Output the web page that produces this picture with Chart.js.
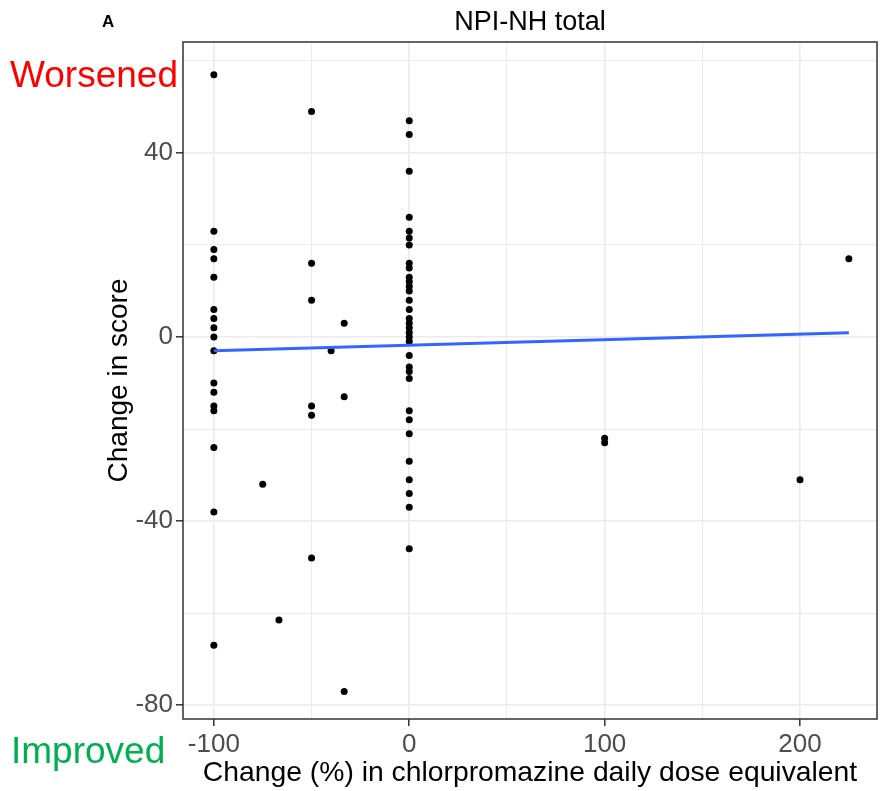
<!DOCTYPE html>
<html>
<head>
<meta charset="utf-8">
<script src="https://cdn.jsdelivr.net/npm/chart.js@4.4.0/dist/chart.umd.min.js"></script>
<style>
  html, body { margin: 0; padding: 0; background: #fff; }
</style>
</head>
<body>
<canvas id="myChart" width="881" height="791"></canvas>
<script>
const doseLevels = [-100, -75, -66.7, -50, -40, -33.3, 0, 100, 200, 225];
const scoresByDose = [
  [57, 23, 19, 17, 13, 6, 4, 2, 0, -3, -10, -12, -15, -16, -24, -38, -67],
  [-32],
  [-61.5],
  [49, 16, 8, -15, -17, -48],
  [-3],
  [3, -13, -77],
  [47, 44, 36, 26, 23, 21.5, 20, 16, 15, 13, 12, 11, 10, 8, 6, 4, 3, 2, 1, 0, -1, -4, -6.5, -7.5, -9, -16, -18, -21, -27, -31, -34, -37, -46],
  [-22, -23],
  [-31],
  [17]
];

// fitted line (linear smooth)
const fitX = [-100, 225];
const fitY = [-3.0, 0.9];

const xMajor = [-100, 0, 100, 200];
const xMinor = [-50, 50, 150];
const yMajor = [-80, -40, 0, 40];
const yMinor = [-60, -20, 20, 60];

const family = '"Liberation Sans", Arial, sans-serif';

const points = doseLevels.flatMap((d, i) => scoresByDose[i].map(s => ({ x: d, y: s })));
const fitLine = fitX.map((x, i) => ({ x: x, y: fitY[i] }));

const xTicks = xMajor.concat(xMinor).sort((a, b) => a - b);
const yTicks = yMajor.concat(yMinor).sort((a, b) => a - b);

const extras = {
  id: 'extras',
  afterDatasetsDraw(chart) {
    const { ctx, chartArea: a } = chart;
    ctx.save();
    ctx.strokeStyle = '#333333';
    ctx.lineWidth = 1.5;
    ctx.strokeRect(a.left, a.top, a.right - a.left, a.bottom - a.top);
    ctx.restore();
  },
  afterDraw(chart) {
    const ctx = chart.ctx;
    ctx.save();
    ctx.textBaseline = 'alphabetic';
    ctx.fillStyle = '#000';
    ctx.font = 'bold 17px ' + family;
    ctx.fillText('A', 102, 27);
    ctx.font = '37px ' + family;
    ctx.fillStyle = '#FF0000';
    ctx.fillText('Worsened', 10, 87);
    ctx.fillStyle = '#00B050';
    ctx.fillText('Improved', 11, 763);
    ctx.restore();
  }
};

const config = {
  type: 'scatter',
  data: {
    datasets: [
      {
        type: 'line',
        data: fitLine,
        borderColor: '#3366FF',
        borderWidth: 3,
        pointRadius: 0,
        fill: false,
        order: 0
      },
      {
        data: points,
        backgroundColor: '#000000',
        borderWidth: 0,
        pointRadius: 3.5,
        order: 1
      }
    ]
  },
  options: {
    responsive: false,
    animation: false,
    layout: { padding: { left: 0, right: 3, top: 0, bottom: 0 } },
    plugins: {
      legend: { display: false },
      tooltip: { enabled: false },
      title: {
        display: true,
        text: 'NPI-NH total',
        fullSize: false,
        color: '#000',
        font: { size: 27, family: family, weight: 'normal' },
        padding: { top: 6, bottom: 3.6 }
      }
    },
    scales: {
      x: {
        type: 'linear',
        min: -115.8,
        max: 239.4,
        afterBuildTicks: (scale) => { scale.ticks = xTicks.map(v => ({ value: v })); },
        afterFit: (scale) => { scale.height = 72; },
        ticks: {
          callback: (v) => xMajor.includes(v) ? String(v) : '',
          color: '#4D4D4D',
          font: { size: 26, family: family },
          padding: 3,
          maxRotation: 0,
          autoSkip: false
        },
        grid: {
          color: '#EBEBEB',
          lineWidth: (c) => xMajor.includes(c.tick && c.tick.value) ? 1.6 : 1,
          tickLength: 7,
          tickWidth: 1.5,
          tickColor: (c) => xMajor.includes(c.tick && c.tick.value) ? '#333333' : 'rgba(0,0,0,0)'
        },
        border: { display: false },
        title: {
          display: true,
          text: 'Change (%) in chlorpromazine daily dose equivalent',
          color: '#000',
          font: { size: 28.3, family: family },
          padding: { top: 0, bottom: 1 }
        }
      },
      y: {
        type: 'linear',
        min: -83.0,
        max: 64.1,
        afterBuildTicks: (scale) => { scale.ticks = yTicks.map(v => ({ value: v })); },
        afterFit: (scale) => { scale.width = 183; },
        ticks: {
          callback: (v) => yMajor.includes(v) ? String(v) : '',
          color: '#4D4D4D',
          font: { size: 26, family: family },
          padding: 3,
          autoSkip: false
        },
        grid: {
          color: '#EBEBEB',
          lineWidth: (c) => yMajor.includes(c.tick && c.tick.value) ? 1.6 : 1,
          tickLength: 7,
          tickWidth: 1.5,
          tickColor: (c) => yMajor.includes(c.tick && c.tick.value) ? '#333333' : 'rgba(0,0,0,0)'
        },
        border: { display: false },
        title: {
          display: true,
          text: 'Change in score',
          color: '#000',
          font: { size: 28, family: family },
          padding: { top: 102, bottom: 0 }
        }
      }
    }
  },
  plugins: [extras]
};

const myChart = new Chart(document.getElementById('myChart'), config);
</script>
</body>
</html>
